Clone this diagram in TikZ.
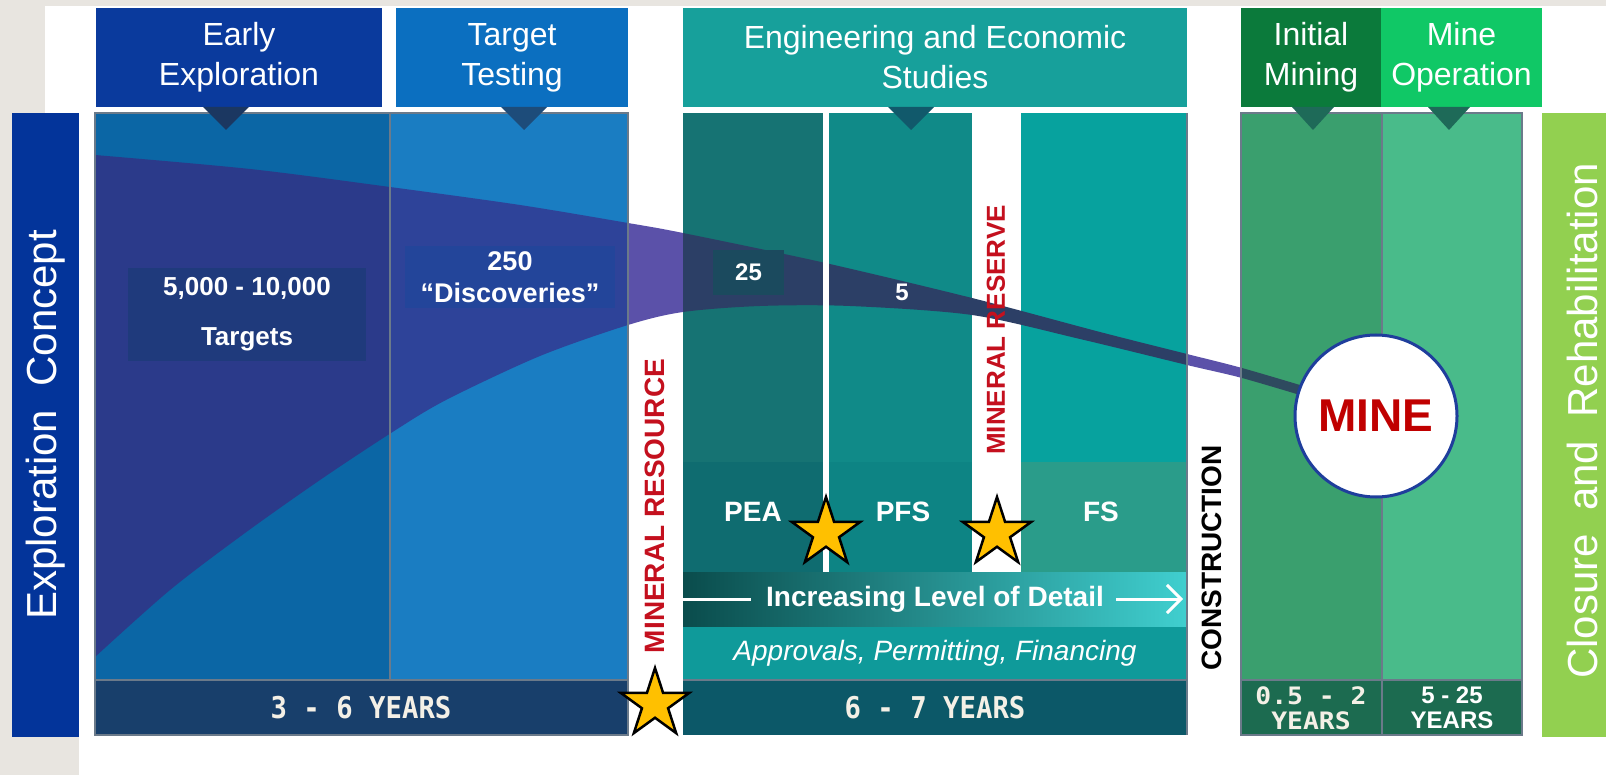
\documentclass[tikz,border=0pt]{standalone}
\usepackage{fontspec}
\setmainfont{Liberation Sans}
\newfontfamily\yearsA[FakeStretch=0.91]{DejaVu Sans Mono}
\newfontfamily\yearsC[FakeStretch=1.1]{DejaVu Sans Mono}
\usetikzlibrary{shapes.geometric,arrows.meta}
\definecolor{bggray}{HTML}{E8E5E0}
\definecolor{cExpl}{HTML}{03349A}
\definecolor{cEarly}{HTML}{0A3A9D}
\definecolor{cTarget}{HTML}{0B6FC0}
\definecolor{cEng}{HTML}{17A09B}
\definecolor{cInit}{HTML}{0B7A3B}
\definecolor{cMineOp}{HTML}{10C866}
\definecolor{cLa}{HTML}{0B66A5}
\definecolor{cLb}{HTML}{1A7DC2}
\definecolor{cLy}{HTML}{183F6B}
\definecolor{cPEA}{HTML}{167373}
\definecolor{cPEAlo}{HTML}{0F6C70}
\definecolor{cPFS}{HTML}{108A88}
\definecolor{cPFSlo}{HTML}{0D8484}
\definecolor{cFS}{HTML}{07A29E}
\definecolor{cFSlo}{HTML}{2A9C8A}
\definecolor{cGradA}{HTML}{0A4C4C}
\definecolor{cGradM}{HTML}{1A9595}
\definecolor{cGradB}{HTML}{40CFCF}
\definecolor{cAppr}{HTML}{0F9A9A}
\definecolor{cEy}{HTML}{0C5868}
\definecolor{cGa}{HTML}{3A9F6E}
\definecolor{cGb}{HTML}{49BB8A}
\definecolor{cGy}{HTML}{1C6B50}
\definecolor{cClos}{HTML}{92D050}
\definecolor{cPa}{HTML}{2B3A8A}
\definecolor{cPb}{HTML}{2E4399}
\definecolor{cPw}{HTML}{5B51A9}
\definecolor{cPt}{HTML}{2C3F66}
\definecolor{cPg}{HTML}{2E4A5F}
\definecolor{cBoxA}{HTML}{1F3A7C}
\definecolor{cBoxB}{HTML}{23459A}
\definecolor{cBoxC}{HTML}{1B4A5E}
\definecolor{cTriA}{HTML}{1B3761}
\definecolor{cTriB}{HTML}{1D4C7A}
\definecolor{cTriT}{HTML}{11596B}
\definecolor{cTriG}{HTML}{1E6A58}
\definecolor{cRed}{HTML}{C4101E}
\definecolor{cMine}{HTML}{C00000}
\definecolor{cCirc}{HTML}{1F3E9C}
\definecolor{cStar}{HTML}{FFC000}
\definecolor{cYtxt}{HTML}{F4F0E6}
\definecolor{cEdge}{HTML}{6B7A8A}
\begin{document}
\begin{tikzpicture}[x=1pt,y=-1pt,
  hdr/.style={fill=#1, text=white, align=center, inner sep=0pt, font=\fontsize{32}{40}\selectfont},
  boxlbl/.style={fill=#1, text=white, align=center, inner sep=0pt, font=\bfseries\fontsize{27}{32}\selectfont},
  wlab/.style={text=white, inner sep=0pt, font=\bfseries\fontsize{28}{28}\selectfont},
  vlab/.style={rotate=90, inner sep=0pt},
  starnode/.style={star, star points=5, star point ratio=2.618, minimum size=72pt, inner sep=0pt, fill=cStar, draw=black, line width=2.5pt},
  yrs/.style={text=cYtxt, align=center, inner sep=0pt},
  edge/.style={draw=cEdge, line width=1.5pt},
  bandpath/.style={insert path={plot[smooth] coordinates {(95,155) (250,169) (390,187) (520,205) (628,223) (683,233) (821,262) (972,298) (1100,332) (1187,354) (1242,368) (1310,388)} -- plot[smooth] coordinates {(1310,398) (1242,378) (1187,365) (1080,339) (972,315) (850,306) (760,306) (683,312) (628,325) (540,356) (446,400) (391,433) (320,480) (245,533) (170,590) (95,657)} -- cycle}}
]
\useasboundingbox (0,0) rectangle (1606,775);
\fill[white] (0,0) rectangle (1606,775);
\fill[bggray] (0,0) rectangle (1606,6);
\fill[bggray] (0,0) rectangle (45,113);
\fill[bggray] (0,113) rectangle (79,775);

% side bars
\fill[cExpl] (12,113) rectangle (79,737);
\fill[cClos] (1542,113) rectangle (1606,737);

% headers
\node[hdr=cEarly, minimum width=286pt, minimum height=99pt] (early) at (239,57.5) {Early\\Exploration};
\node[hdr=cTarget, minimum width=232pt, minimum height=99pt] (target) at (512,57.5) {Target\\Testing};
\node[hdr=cEng, minimum width=504pt, minimum height=99pt] (eng) at (935,57.5) {Engineering and Economic\\Studies};
\node[hdr=cInit, minimum width=140pt, minimum height=99pt] (init) at (1311,57.5) {Initial\\Mining};
\node[hdr=cMineOp, minimum width=161pt, minimum height=99pt] (mineop) at (1461.5,57.5) {Mine\\Operation};

% left panel
\fill[cLa] (95,113) rectangle (390,680);
\fill[cLb] (390,113) rectangle (628,680);
\fill[cLy] (95,680) rectangle (628,735);

% teal panel
\fill[cPEA] (683,113) rectangle (823,462);
\fill[cPEAlo] (683,462) rectangle (823,572);
\fill[cPFS] (829,113) rectangle (972,462);
\fill[cPFSlo] (829,462) rectangle (972,572);
\fill[cFS] (1021,113) rectangle (1187,462);
\fill[cFSlo] (1021,462) rectangle (1187,572);
\shade[left color=cGradA, middle color=cGradM, right color=cGradB] (683,572) rectangle (1187,627);
\fill[cAppr] (683,627) rectangle (1187,680);
\fill[cEy] (683,680) rectangle (1187,735);

% green panel
\fill[cGa] (1241,113) rectangle (1382,680);
\fill[cGb] (1382,113) rectangle (1522,680);
\fill[cGy] (1241,680) rectangle (1382,735);
\fill[cGy] (1382,680) rectangle (1522,735);

% purple funnel band
\begin{scope}
\path[clip, bandpath];
\fill[cPa] (95,113) rectangle (390,680);
\fill[cPb] (390,113) rectangle (628,680);
\fill[cPw] (628,113) rectangle (683,680);
\fill[cPt] (683,113) rectangle (1187,572);
\fill[cPw] (1187,113) rectangle (1241,680);
\fill[cPg] (1241,113) rectangle (1382,680);
\end{scope}

% white separator in teal panel
\fill[white] (823,113) rectangle (829,572);

% dividers and edges
\draw[edge] (390,113) -- (390,680);
\draw[edge] (95,680) -- (628,680);
\draw[edge] (95,113) rectangle (628,735);
\draw[edge] (683,680) -- (1187,680);
\draw[edge] (1187,113) -- (1187,735);
\draw[edge] (1382,113) -- (1382,735);
\draw[edge] (1241,680) -- (1522,680);
\draw[edge] (1241,113) rectangle (1522,735);

% triangles under headers
\fill[cTriA] (203,107) -- (249,107) -- (226,130) -- cycle;
\fill[cTriB] (501,107) -- (547,107) -- (524,130) -- cycle;
\fill[cTriT] (888,107) -- (934,107) -- (911,130) -- cycle;
\fill[cTriG] (1292,107) -- (1334,107) -- (1313,130) -- cycle;
\fill[cTriG] (1428,107) -- (1470,107) -- (1449,130) -- cycle;

% count boxes
\node[boxlbl=cBoxA, minimum width=238pt, minimum height=93pt, font=\bfseries\fontsize{26}{50}\selectfont] (targets) at (247,314.5) {5,000 - 10,000\\Targets};
\node[boxlbl=cBoxB, minimum width=210pt, minimum height=62pt] (disc) at (510,277) {250\\“Discoveries”};
\node[boxlbl=cBoxC, minimum width=71pt, minimum height=45pt, font=\bfseries\fontsize{24}{24}\selectfont] (n25) at (748.5,272.5) {25};
\node[wlab, font=\bfseries\fontsize{24}{24}\selectfont] (n5) at (902,292) {5};

% study labels
\node[wlab] (pea) at (753,512) {PEA};
\node[wlab] (pfs) at (903,512) {PFS};
\node[wlab] (fs) at (1101,512) {FS};

\node[wlab] (lvl) at (935,599) {Increasing Level of Detail};
\coordinate (lvlL) at (683,599);
\coordinate (lvlR) at (1183,599);
\draw[white, line width=3pt] (lvlL) -- ([xshift=-15pt]lvl.west);
\draw[white, line width=3pt, -{Straight Barb[length=14pt,width=28pt]}] ([xshift=12pt]lvl.east) -- (lvlR);
\node[text=white, inner sep=0pt, font=\itshape\fontsize{28}{28}\selectfont] (appr) at (935,653) {Approvals, Permitting, Financing};

% years
\node[yrs, font=\yearsA\bfseries\fontsize{30}{30}\selectfont] (y1) at (361,708) {3 - 6 YEARS};
\node[yrs, font=\yearsA\bfseries\fontsize{30}{30}\selectfont] (y2) at (935,708) {6 - 7 YEARS};
\node[yrs, font=\yearsC\bfseries\fontsize{24}{25}\selectfont] (y3) at (1311,708) {0.5 - 2\\YEARS};
\node[text=white, align=center, inner sep=0pt, font=\bfseries\fontsize{24}{25}\selectfont] (y4) at (1452,708) {5 - 25\\YEARS};

% vertical labels
\node[vlab, text=white, font=\fontsize{42}{42}\selectfont] (expl) at (45.5,425) {Exploration\ \ Concept};
\node[vlab, text=white, font=\fontsize{42}{42}\selectfont] (clos) at (1582,421) {Closure\ \ and\ \ Rehabilitation};
\node[vlab, text=cRed, font=\bfseries\fontsize{28}{28}\selectfont] (mres) at (655,506) {MINERAL RESOURCE};
\node[vlab, text=cRed, font=\bfseries\fontsize{26}{26}\selectfont] (mrsv) at (996,330) {MINERAL RESERVE};
\node[vlab, text=black, font=\bfseries\fontsize{28}{28}\selectfont] (constr) at (1212,558) {CONSTRUCTION};

% stars
\node[starnode] (s1) at (655,704) {};
\node[starnode] (s2) at (826,533) {};
\node[starnode] (s3) at (997,533) {};

% mine circle
\node[circle, draw=cCirc, line width=3pt, fill=white, minimum size=162pt, inner sep=0pt, text=cMine, font=\bfseries\fontsize{46}{46}\selectfont] (mine) at (1376,416) {MINE};
\end{tikzpicture}
\end{document}
